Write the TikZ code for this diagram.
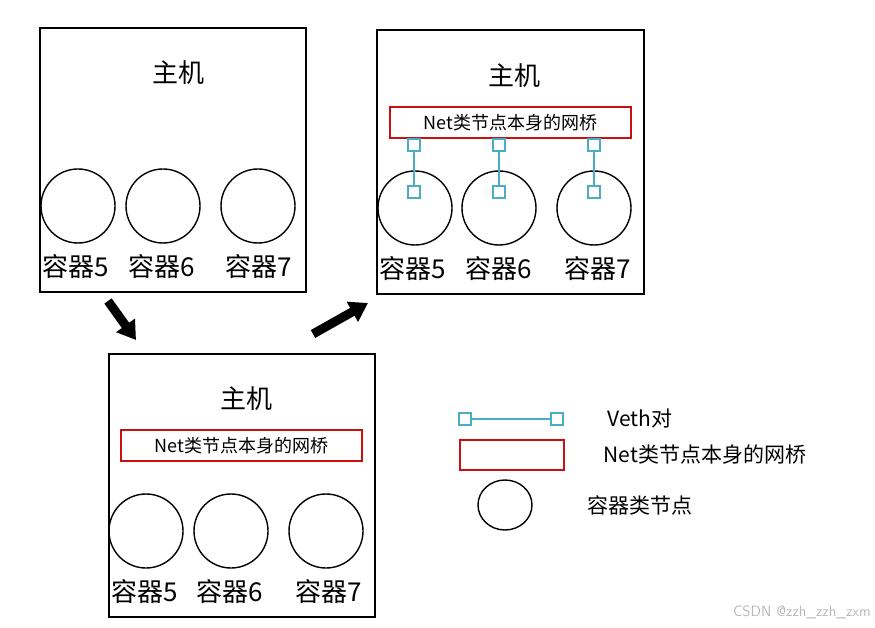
\documentclass[tikz,border=0pt]{standalone}
\usepackage{fontspec}
\newfontfamily\cjk{Noto Sans CJK SC}
\usetikzlibrary{arrows.meta}
\definecolor{bridgered}{RGB}{200,16,16}
\definecolor{vethblue}{RGB}{75,172,198}
\tikzset{
  hostbox/.style={draw=black,line width=1.3pt},
  cont/.style={draw=black,line width=1.4pt,circle,minimum size=74pt,inner sep=0pt},
  ctitle/.style={font=\cjk\fontsize{26}{30}\selectfont,inner sep=0pt},
  clabel/.style={font=\cjk\fontsize{26}{30}\selectfont,inner sep=0pt},
  bridge/.style={draw=bridgered,line width=1.4pt,inner sep=0pt,font=\cjk\fontsize{18}{22}\selectfont},
  vport/.style={draw=vethblue,line width=1.4pt,minimum size=12pt,inner sep=0pt,fill=white},
  vline/.style={draw=vethblue,line width=1.4pt},
  bigarrow/.style={line width=9pt,-{Triangle[length=18pt,width=22pt]}},
  legtext/.style={font=\cjk\fontsize{21}{25}\selectfont,inner sep=0pt},
}
\begin{document}
\begin{tikzpicture}[x=1pt,y=-1pt]
\useasboundingbox (0,0) rectangle (875,628);
% ---- Host 1 (top left)
\draw[hostbox] (40,28) rectangle (306,292);
\node[ctitle] (t1) at (178,73) {主机};
\node[cont] (a5) at (78,206) {};
\node[cont] (a6) at (163,206) {};
\node[cont] (a7) at (258,206) {};
\node[clabel] (la5) at (76,267) {容器5};
\node[clabel] (la6) at (162,267) {容器6};
\node[clabel] (la7) at (259,267) {容器7};
% ---- Host 2 (top right)
\draw[hostbox] (377,30) rectangle (644,294);
\node[ctitle] (t2) at (514,76) {主机};
\node[bridge,minimum width=241pt,minimum height=31pt] (br2) at (510.5,122.5) {Net类节点本身的网桥};
\node[cont] (b5) at (415,208) {};
\node[cont] (b6) at (499,208) {};
\node[cont] (b7) at (594,208) {};
\node[vport] (p1u) at (414,145) {};
\node[vport] (p2u) at (499,145) {};
\node[vport] (p3u) at (594,145) {};
\node[vport] (p1d) at (414,192) {};
\node[vport] (p2d) at (499,192) {};
\node[vport] (p3d) at (594,192) {};
\draw[vline] (p1u) -- (p1d);
\draw[vline] (p2u) -- (p2d);
\draw[vline] (p3u) -- (p3d);
\node[clabel] (lb5) at (413,269) {容器5};
\node[clabel] (lb6) at (499,269) {容器6};
\node[clabel] (lb7) at (598,269) {容器7};
% ---- Host 3 (bottom)
\draw[hostbox] (109,354) rectangle (375,617);
\node[ctitle] (t3) at (246,399) {主机};
\node[bridge,minimum width=241pt,minimum height=31pt] (br3) at (241.5,445.5) {Net类节点本身的网桥};
\node[cont] (c5) at (146,531) {};
\node[cont] (c6) at (231,531) {};
\node[cont] (c7) at (326,531) {};
\node[clabel] (lc5) at (145,592) {容器5};
\node[clabel] (lc6) at (230,592) {容器6};
\node[clabel] (lc7) at (329,592) {容器7};
% ---- arrows
\coordinate (a1s) at (108,301);
\coordinate (a1e) at (136,340);
\coordinate (a2s) at (313,334);
\coordinate (a2e) at (368,303);
\draw[bigarrow] (a1s) -- (a1e);
\draw[bigarrow] (a2s) -- (a2e);
% ---- legend
\node[vport] (lv1) at (465,419) {};
\node[vport] (lv2) at (557,419) {};
\draw[vline] (lv1) -- (lv2);
\node[legtext] (lvt) at (640,419) {Veth对};
\node[draw=bridgered,line width=1.4pt,minimum width=104pt,minimum height=30pt,inner sep=0pt] (lbr) at (512,455) {};
\node[legtext] (lbrt) at (705,455) {Net类节点本身的网桥};
\draw[line width=1.4pt] (505,505) ellipse (27pt and 25pt);
\node[legtext] (lct) at (640,505) {容器类节点};
% ---- watermark
\node[font=\fontsize{15}{17}\selectfont\sffamily,text=black!28,anchor=east,inner sep=0pt] (wm) at (871,612) {CSDN @zzh\_zzh\_zxm};
\end{tikzpicture}
\end{document}
